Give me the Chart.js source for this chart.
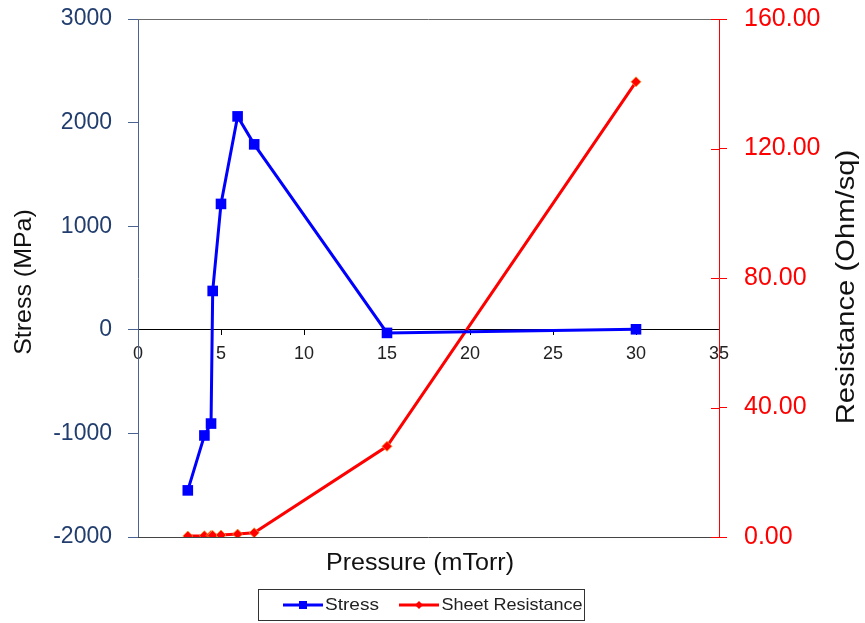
<!DOCTYPE html>
<html>
<head>
<meta charset="utf-8">
<script src="https://cdn.jsdelivr.net/npm/chart.js@4.4.1/dist/chart.umd.min.js"></script>
<style>
  html, body { margin: 0; padding: 0; background: #fff; }
  #wrap { width: 865px; height: 623px; position: relative; }
</style>
</head>
<body>
<div id="wrap"><canvas id="chart"></canvas></div>
<script>
// values
const pressure = [3, 4, 4.4, 4.5, 5, 6, 7, 15, 30];
const stress = [-1550, -1020, -905, 375, 1215, 2060, 1790, -30, 5];
const resistance = [0.3, 0.4, 0.5, 0.5, 0.6, 0.9, 1.3, 28, 140.6];

const xTicks = [0, 5, 10, 15, 20, 25, 30, 35];
const stressTicks = [-2000, -1000, 0, 1000, 2000, 3000];
const resTicks = [0, 40, 80, 120, 160];

const FONT = "'Liberation Sans', Arial, sans-serif";
const NAVY = '#223E6E';

function pts(xs, ys) {
  return xs.map((x, i) => ({ x: x, y: ys[i] }));
}

function stretchText(ctx, text, x, y, sx, rot, font, color) {
  ctx.save();
  ctx.translate(x, y);
  ctx.rotate(rot);
  ctx.scale(sx, 1);
  ctx.font = font;
  ctx.fillStyle = color;
  ctx.textAlign = 'center';
  ctx.textBaseline = 'middle';
  ctx.fillText(text, 0, 0);
  ctx.restore();
}

function noPad(s) {
  s.paddingTop = 0; s.paddingBottom = 0;
  s.paddingLeft = 0; s.paddingRight = 0;
}

// frame lines, inner ticks of the right axis, titles and the boxed legend
const extras = {
  id: 'extras',
  beforeDatasetsDraw(chart) {
    const ctx = chart.ctx, a = chart.chartArea;
    ctx.save();
    ctx.lineWidth = 1;
    ctx.strokeStyle = '#6b6b6b';
    ctx.beginPath();
    ctx.moveTo(a.left, a.top + 0.5); ctx.lineTo(a.right, a.top + 0.5);
    ctx.stroke();
    ctx.strokeStyle = '#444';
    ctx.beginPath();
    ctx.moveTo(a.left, a.bottom + 0.5); ctx.lineTo(a.right, a.bottom + 0.5);
    ctx.stroke();
    const s = chart.scales.y1;
    ctx.strokeStyle = '#FF0000';
    s.ticks.forEach(t => {
      const y = Math.round(s.getPixelForValue(t.value)) + 0.5;
      ctx.beginPath();
      ctx.moveTo(a.right - 8, y); ctx.lineTo(a.right, y);
      ctx.stroke();
    });
    ctx.restore();
  },
  afterDraw(chart) {
    const ctx = chart.ctx;
    stretchText(ctx, 'Stress (MPa)', 24, 282, 1.04, -Math.PI / 2, '24px ' + FONT, '#111');
    stretchText(ctx, 'Resistance (Ohm/sq)', 847, 287, 1.17, -Math.PI / 2, '25px ' + FONT, '#111');
    stretchText(ctx, 'Pressure (mTorr)', 420, 564, 1.09, 0, '23px ' + FONT, '#111');

    // legend
    ctx.save();
    ctx.strokeStyle = '#333';
    ctx.lineWidth = 1;
    ctx.strokeRect(258.5, 589.5, 326, 31);
    const cy = 605;
    ctx.lineWidth = 3;
    ctx.strokeStyle = '#0000FF';
    ctx.beginPath(); ctx.moveTo(283, cy); ctx.lineTo(323, cy); ctx.stroke();
    ctx.fillStyle = '#0000FF';
    ctx.fillRect(299, cy - 4, 8, 8);
    ctx.strokeStyle = '#FF0000';
    ctx.beginPath(); ctx.moveTo(399, cy); ctx.lineTo(439, cy); ctx.stroke();
    ctx.fillStyle = '#FF0000';
    ctx.beginPath();
    ctx.moveTo(419, cy - 4); ctx.lineTo(423, cy); ctx.lineTo(419, cy + 4); ctx.lineTo(415, cy);
    ctx.closePath(); ctx.fill();
    ctx.restore();
    stretchText(ctx, 'Stress', 352, cy, 1.12, 0, '17px ' + FONT, '#222');
    stretchText(ctx, 'Sheet Resistance', 512, cy, 1.06, 0, '17px ' + FONT, '#222');
  }
};

new Chart(document.getElementById('chart'), {
  type: 'scatter',
  data: {
    datasets: [
      {
        label: 'Stress',
        data: pts(pressure, stress),
        yAxisID: 'y',
        showLine: true,
        borderColor: '#0000FF',
        backgroundColor: '#0000FF',
        borderWidth: 3,
        pointStyle: 'rect',
        pointRadius: 7.5,
        pointBorderWidth: 0,
        order: 1
      },
      {
        label: 'Sheet Resistance',
        data: pts(pressure, resistance),
        yAxisID: 'y1',
        showLine: true,
        borderColor: '#FF0000',
        backgroundColor: '#FF0000',
        borderWidth: 3,
        pointStyle: 'rectRot',
        pointRadius: 5,
        pointBorderColor: 'rgba(255,150,40,0.8)',
        pointBorderWidth: 1,
        order: 2
      }
    ]
  },
  options: {
    responsive: true,
    maintainAspectRatio: false,
    animation: false,
    layout: { padding: { left: 0, right: 0, top: 19, bottom: 86 } },
    plugins: {
      legend: { display: false },
      tooltip: { enabled: false }
    },
    scales: {
      x: {
        type: 'linear',
        position: { y: 0 },
        min: 0,
        max: 35,
        afterBuildTicks: s => { s.ticks = xTicks.map(v => ({ value: v })); },
        afterFit: noPad,
        grid: { drawOnChartArea: false, drawTicks: true, tickLength: 5, color: '#000' },
        border: { display: true, color: '#000', width: 1 },
        ticks: { color: '#222', font: { family: FONT, size: 18 }, padding: 8, maxRotation: 0, callback: v => String(v) }
      },
      y: {
        type: 'linear',
        position: 'left',
        min: -2000,
        max: 3000,
        afterBuildTicks: s => { s.ticks = stressTicks.map(v => ({ value: v })); },
        afterFit: s => { s.width = 138; noPad(s); },
        grid: { drawOnChartArea: false, drawTicks: true, tickLength: 10, color: '#4A6491' },
        border: { display: true, color: '#4A6491', width: 1 },
        ticks: { color: NAVY, font: { family: FONT, size: 23 }, padding: 16, callback: v => String(v) }
      },
      y1: {
        type: 'linear',
        position: 'right',
        min: 0,
        max: 160,
        afterBuildTicks: s => { s.ticks = resTicks.map(v => ({ value: v })); },
        afterFit: s => { s.width = 146; noPad(s); },
        grid: { drawOnChartArea: false, drawTicks: true, tickLength: 8, color: '#FF0000' },
        border: { display: true, color: '#FF0000', width: 1 },
        ticks: { color: '#FF0000', font: { family: FONT, size: 25 }, padding: 17, callback: v => v.toFixed(2) }
      }
    }
  },
  plugins: [extras]
});
</script>
</body>
</html>
